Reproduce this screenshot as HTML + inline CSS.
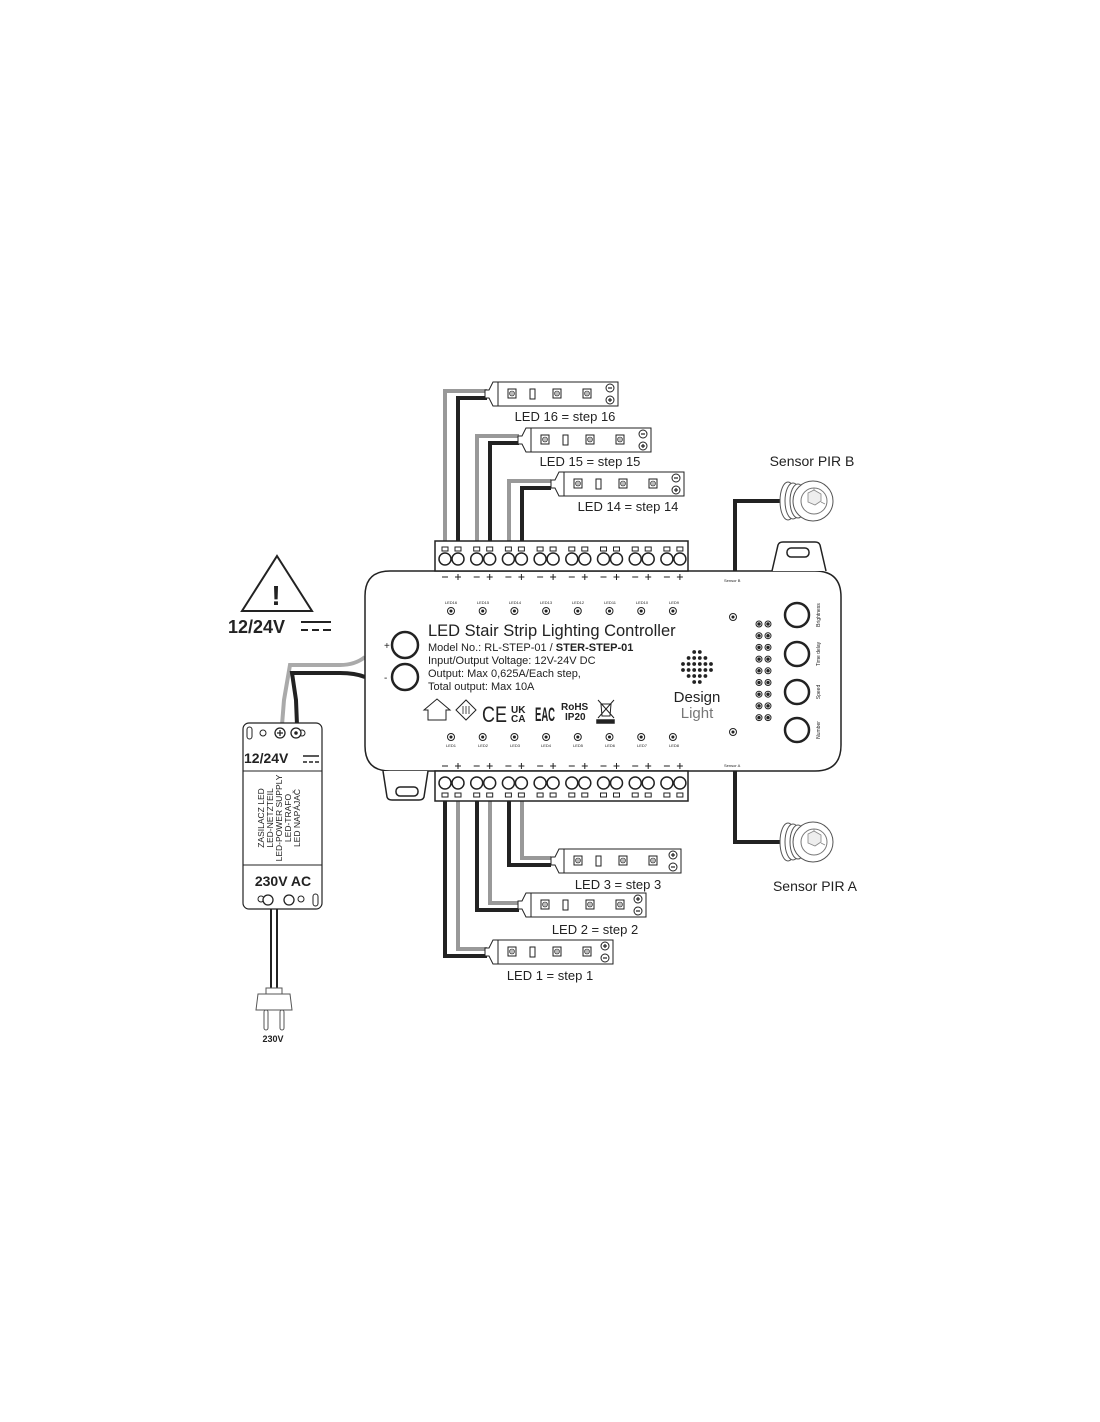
<!DOCTYPE html>
<html><head><meta charset="utf-8"><style>
html,body{margin:0;padding:0;background:#fff}
svg{display:block}
text{font-family:"Liberation Sans",sans-serif;fill:#222}
</style></head><body>
<svg id="s" width="1100" height="1422" viewBox="0 0 1100 1422" xmlns="http://www.w3.org/2000/svg">
<g id="wires" fill="none" stroke-width="4" stroke-linejoin="miter">
<polyline points="445,541 445,391 487,391" stroke="#999"/>
<polyline points="458,541 458,398 487,398" stroke="#222"/>
<polyline points="477,541 477,436 519,436" stroke="#999"/>
<polyline points="490,541 490,443 519,443" stroke="#222"/>
<polyline points="509,541 509,481 551,481" stroke="#999"/>
<polyline points="522,541 522,488 551,488" stroke="#222"/>
<polyline points="509,801 509,865 551,865" stroke="#222"/>
<polyline points="522,801 522,858 551,858" stroke="#999"/>
<polyline points="477,801 477,910 519,910" stroke="#222"/>
<polyline points="490,801 490,903 519,903" stroke="#999"/>
<polyline points="445,801 445,956 487,956" stroke="#222"/>
<polyline points="458,801 458,949 487,949" stroke="#999"/>
<polyline points="735,571 735,501 782,501" stroke="#222"/>
<polyline points="735,771 735,842 782,842" stroke="#222"/>
<path d="M282,725 L284,700 L290,665 L340,665 Q355,665 365,657" stroke="#aaa"/>
<path d="M297,725 L296,700 L292,673 L340,673 Q355,673 365,677" stroke="#222"/>
<line x1="271" y1="908" x2="271" y2="990" stroke="#222" stroke-width="2"/>
<line x1="277" y1="908" x2="277" y2="990" stroke="#222" stroke-width="2"/>
</g>
<g id="shapes" fill="#fff" stroke="#222" stroke-width="1.5"></g>

<text x="565" y="421" font-size="13" text-anchor="middle">LED 16 = step 16</text>
<text x="590" y="466" font-size="13" text-anchor="middle">LED 15 = step 15</text>
<text x="628" y="511" font-size="13" text-anchor="middle">LED 14 = step 14</text>
<text x="618" y="889" font-size="13" text-anchor="middle">LED 3 = step 3</text>
<text x="595" y="934" font-size="13" text-anchor="middle">LED 2 = step 2</text>
<text x="550" y="980" font-size="13" text-anchor="middle">LED 1 = step 1</text>
<text x="812" y="466" font-size="14" text-anchor="middle">Sensor PIR B</text>
<text x="815" y="891" font-size="14" text-anchor="middle">Sensor PIR A</text>
<text x="724" y="582" font-size="4">Sensor B</text>
<text x="724" y="767" font-size="4">Sensor A</text>

<text x="428" y="636" font-size="16.5">LED Stair Strip Lighting Controller</text>
<text x="428" y="651" font-size="11">Model No.: RL-STEP-01 / <tspan font-weight="bold">STER-STEP-01</tspan></text>
<text x="428" y="664" font-size="11">Input/Output Voltage: 12V-24V DC</text>
<text x="428" y="677" font-size="11">Output: Max 0,625A/Each step,</text>
<text x="428" y="690" font-size="11">Total output: Max 10A</text>
<text x="384" y="649" font-size="10">+</text>
<text x="384" y="681" font-size="10">-</text>
<text x="482" y="722" font-size="22" textLength="25" lengthAdjust="spacingAndGlyphs">CE</text>
<text x="511" y="713" font-size="10" font-weight="bold">UK</text>
<text x="511" y="722" font-size="10" font-weight="bold">CA</text>
<text x="535" y="721" font-size="19" font-weight="bold" textLength="20" lengthAdjust="spacingAndGlyphs">EAC</text>
<text x="561" y="710" font-size="10" font-weight="bold">RoHS</text>
<text x="565" y="720" font-size="10" font-weight="bold">IP20</text>
<text x="697" y="702" font-size="15" text-anchor="middle">Design</text>
<text x="697" y="718" font-size="15" text-anchor="middle" style="fill:#777">Light</text>
<g font-size="4" text-anchor="middle">
<text x="451" y="604">LED16</text><text x="483" y="604">LED15</text><text x="515" y="604">LED14</text><text x="546" y="604">LED13</text><text x="578" y="604">LED12</text><text x="610" y="604">LED11</text><text x="642" y="604">LED10</text><text x="674" y="604">LED9</text>
<text x="451" y="747">LED1</text><text x="483" y="747">LED2</text><text x="515" y="747">LED3</text><text x="546" y="747">LED4</text><text x="578" y="747">LED5</text><text x="610" y="747">LED6</text><text x="642" y="747">LED7</text><text x="674" y="747">LED8</text>
</g>
<g font-size="5" text-anchor="middle">
<text transform="translate(820,615) rotate(-90)">Brightness</text>
<text transform="translate(820,654) rotate(-90)">Time delay</text>
<text transform="translate(820,692) rotate(-90)">Speed</text>
<text transform="translate(820,730) rotate(-90)">Number</text>
</g>
<text x="228" y="633" font-size="18" font-weight="bold">12/24V</text>
<text x="244" y="763" font-size="14" font-weight="bold">12/24V</text>
<text x="283" y="886" font-size="14" font-weight="bold" text-anchor="middle">230V AC</text>
<text x="273" y="1042" font-size="9" font-weight="bold" text-anchor="middle">230V</text>
<g font-size="8.5" text-anchor="middle">
<text transform="translate(264,818) rotate(-90)">ZASILACZ LED</text>
<text transform="translate(273,818) rotate(-90)">LED-NETZTEIL</text>
<text transform="translate(282,818) rotate(-90)">LED-POWER SUPPLY</text>
<text transform="translate(291,818) rotate(-90)">LED-TRAFO</text>
<text transform="translate(300,818) rotate(-90)">LED NAPÁJAČ</text>
</g>
<text x="276" y="605" font-size="28" font-weight="bold" text-anchor="middle">!</text>
</svg>
<script>
const NS="http://www.w3.org/2000/svg";
const g=document.getElementById('shapes');
const svg=document.getElementById('s');
function el(t,a,p){const e=document.createElementNS(NS,t);for(const k in a)e.setAttribute(k,a[k]);(p||g).appendChild(e);return e;}
el('path',{d:"M390,571 L815,571 Q841,571 841,597 L841,745 Q841,771 815,771 L390,771 Q365,771 365,746 L365,596 Q365,571 390,571 Z"});
el('path',{d:"M772,571 L778,545 Q779,542 783,542 L815,542 Q819,542 820,545 L826,571"});
el('rect',{x:787,y:548,width:22,height:9,rx:4});
el('path',{d:"M428,771 L424,797 Q423,800 419,800 L392,800 Q388,800 387,797 L383,771"});
el('rect',{x:396,y:787,width:22,height:9,rx:4});
el('rect',{x:435,y:541,width:253,height:30});
el('rect',{x:435,y:771,width:253,height:30});
for(let i=0;i<8;i++){
  const m=445+31.7*i, p=m+13;
  for(const x of [m,p]){
    el('rect',{x:x-3,y:547,width:6,height:4,'stroke-width':1});
    el('circle',{cx:x,cy:559,r:6});
    el('rect',{x:x-3,y:793,width:6,height:4,'stroke-width':1});
    el('circle',{cx:x,cy:783,r:6});
  }
  for(const y of [580,769]){
    el('line',{x1:m-3,y1:y-3,x2:m+3,y2:y-3,'stroke-width':1});
    el('line',{x1:p-3,y1:y-3,x2:p+3,y2:y-3,'stroke-width':1});
    el('line',{x1:p,y1:y-6,x2:p,y2:y,'stroke-width':1});
  }
  const cx=451+31.7*i;
  for(const cy of [611,737]){el('circle',{cx:cx,cy:cy,r:3.5,'stroke-width':1});el('circle',{cx:cx,cy:cy,r:0.8,fill:'#222'});}
}
el('circle',{cx:405,cy:645,r:13,'stroke-width':2.5});
el('circle',{cx:405,cy:677,r:13,'stroke-width':2.5});
for(const cy of [617,732]){el('circle',{cx:733,cy:cy,r:3.5,'stroke-width':1});el('circle',{cx:733,cy:cy,r:0.8,fill:'#222'});}
for(let r=0;r<9;r++){const y=624+11.7*r;for(const x of [759,768]){el('circle',{cx:x,cy:y,r:3,'stroke-width':1});el('circle',{cx:x,cy:y,r:1,fill:'#222'});}}
for(const y of [615,654,692,730]) el('circle',{cx:797,cy:y,r:12,'stroke-width':2.5});
const rows=[2,4,6,6,4,2];rows.forEach((n,ri)=>{for(let k=0;k<n;k++){el('circle',{cx:697+(k-(n-1)/2)*5.6,cy:652+ri*6,r:1.9,fill:'#222',stroke:'none'});}});
el('path',{d:"M428,720 L428,710 L424,710 L437,699 L450,710 L446,710 L446,720 Z",'stroke-width':1});
el('path',{d:"M456,710 L466,700 L476,710 L466,720 Z",'stroke-width':1});
el('path',{d:"M463,706 v8 M466,706 v8 M469,706 v8",'stroke-width':0.8});
el('path',{d:"M598,700 L614,718 M614,700 L598,718 M601,704 h10 l-1,12 h-8 z",'stroke-width':1,fill:'none'});
el('rect',{x:597,y:720,width:17,height:3,fill:'#222'});
function strip(x,y,w,top){
  el('path',{d:`M${x-13},${y+8} L${x-9},${y+8} L${x-5},${y} L${x},${y} L${x},${y+24} L${x-5},${y+24} L${x-9},${y+16} L${x-13},${y+16} Z`,'stroke-width':1});
  el('rect',{x:x,y:y,width:w,height:24,'stroke-width':1});
  const d=[10,32,55,85];
  d.forEach((o,i)=>{ if(i==1) el('rect',{x:x+o,y:y+7,width:5,height:10,'stroke-width':1}); else {el('rect',{x:x+o,y:y+7,width:8,height:9,'stroke-width':1});el('circle',{cx:x+o+4,cy:y+11.5,r:2.5,fill:'#bbb','stroke-width':0.6});}});
  el('circle',{cx:x+w-8,cy:y+6,r:4,'stroke-width':1});el('circle',{cx:x+w-8,cy:y+18,r:4,'stroke-width':1});
  const ym=top?y+6:y+18, yp=top?y+18:y+6;
  el('line',{x1:x+w-10,y1:ym,x2:x+w-6,y2:ym,'stroke-width':1.2});
  el('line',{x1:x+w-10,y1:yp,x2:x+w-6,y2:yp,'stroke-width':1.2});el('line',{x1:x+w-8,y1:yp-2,x2:x+w-8,y2:yp+2,'stroke-width':1.2});
}
strip(498,382,120,true);strip(531,428,120,true);strip(564,472,120,true);
strip(564,849,117,false);strip(531,893,115,false);strip(498,940,115,false);
function sensor(cx,cy){
  for(let k=0;k<4;k++) el('ellipse',{cx:cx-20+k*5,cy:cy,rx:8,ry:19-k,'stroke-width':1,stroke:'#555'});
  el('circle',{cx:cx+5,cy:cy,r:20,'stroke-width':1,stroke:'#555'});
  el('circle',{cx:cx+6,cy:cy,r:13,'stroke-width':1,stroke:'#777'});
  el('path',{d:`M${cx},${cy-8} l6,-3 l7,4 l0,7 l-6,4 l-7,-3 z M${cx+6},${cy-11} v-2 M${cx+13},${cy+1} l4,2`,'stroke-width':0.8,stroke:'#888',fill:'#eee'});
}
sensor(808,501);sensor(808,842);
el('path',{d:"M277,556 L312,611 L242,611 Z",'stroke-width':2});
el('path',{d:"M301,622 h30 M301,630 h7 M312,630 h7 M323,630 h8",'stroke-width':2,fill:'none'});
el('rect',{x:243,y:723,width:79,height:186,rx:6,'stroke-width':1.2});
el('line',{x1:243,y1:771,x2:322,y2:771,'stroke-width':1});
el('line',{x1:243,y1:865,x2:322,y2:865,'stroke-width':1});
el('path',{d:"M303,756 h16 M303,762 h4 M309,762 h4 M315,762 h4",'stroke-width':1.5,fill:'none'});
for(const [x,y,r] of [[263,733,3],[302,733,3],[261,899,3],[301,899,3]]) el('circle',{cx:x,cy:y,r:r,'stroke-width':1});
el('circle',{cx:280,cy:733,r:5,'stroke-width':1.3});el('path',{d:"M277,733 h6 M280,730 v6",'stroke-width':1.3});
el('circle',{cx:296,cy:733,r:5,'stroke-width':1.3});el('circle',{cx:296,cy:733,r:1,fill:'#222'});
el('circle',{cx:268,cy:900,r:5,'stroke-width':1.3});el('circle',{cx:289,cy:900,r:5,'stroke-width':1.3});
el('rect',{x:247,y:727,width:5,height:12,rx:2.5,'stroke-width':1});el('rect',{x:313,y:894,width:5,height:12,rx:2.5,'stroke-width':1});
el('rect',{x:266,y:988,width:16,height:6,'stroke-width':1,stroke:'#555'});
el('path',{d:"M258,994 L290,994 L292,1010 L256,1010 Z",'stroke-width':1,stroke:'#555'});
el('rect',{x:264,y:1010,width:4,height:20,rx:2,'stroke-width':1,stroke:'#555'});
el('rect',{x:280,y:1010,width:4,height:20,rx:2,'stroke-width':1,stroke:'#555'});
svg.insertBefore(svg.removeChild(g), svg.querySelector('text'));
</script>
</body></html>
